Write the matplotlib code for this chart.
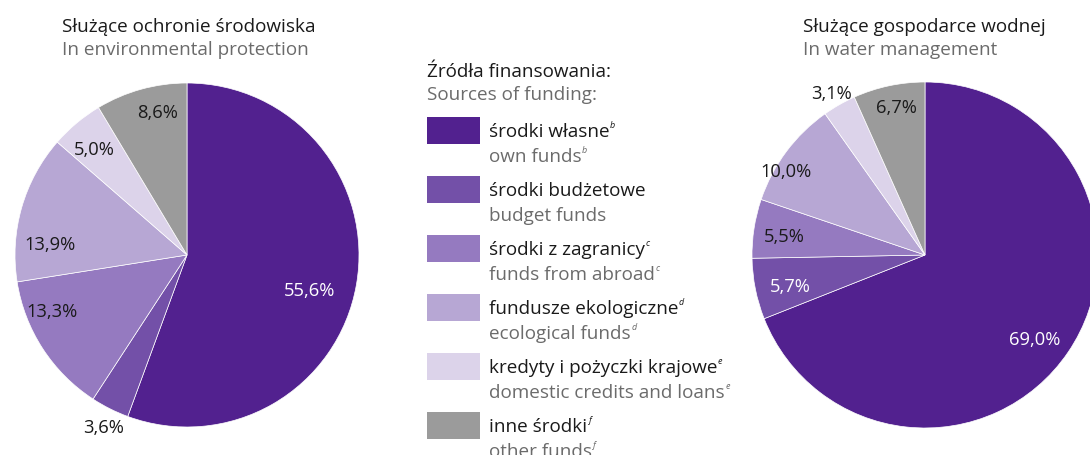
import matplotlib
matplotlib.use("Agg")
import matplotlib.pyplot as plt
import numpy as np

W, H = 1090, 456
FONT = "Open Sans"
FS = 13.6
FS_LAB = 13.2

# ---------------- data ----------------
categories_pl = ["środki własne", "środki budżetowe", "środki z zagranicy",
                 "fundusze ekologiczne", "kredyty i pożyczki krajowe", "inne środki"]
categories_en = ["own funds", "budget funds", "funds from abroad",
                 "ecological funds", "domestic credits and loans", "other funds"]
footnotes = ["b", "", "c", "d", "e", "f"]
env_values = [55.6, 3.6, 13.3, 13.9, 5.0, 8.6]
water_values = [69.0, 5.7, 5.5, 10.0, 3.1, 6.7]
env_labels = ["55,6%", "3,6%", "13,3%", "13,9%", "5,0%", "8,6%"]
water_labels = ["69,0%", "5,7%", "5,5%", "10,0%", "3,1%", "6,7%"]

colors = ["#52218f", "#7350a8", "#957ac0", "#b7a7d4", "#dcd3ea", "#9b9b9b"]
txt_dark = "#1a1a1a"
txt_gray = "#6b6b6b"

# label placement (radius fraction, angle offset deg, colour)
env_lab_r = [0.74, 1.11, 0.85, 0.80, 0.82, 0.85]
env_lab_dt = [-5.8, 0.6, -10.4, 11.4, 1.3, -3.7]
env_lab_c = ["white", txt_dark, txt_dark, txt_dark, txt_dark, txt_dark]
water_lab_r = [0.80, 0.80, 0.82, 0.94, 1.08, 0.87]
water_lab_dt = [-3.2, 1.7, 1.1, 5.6, 0.2, -1.0]
water_lab_c = ["white", "white", txt_dark, txt_dark, txt_dark, txt_dark]

fig = plt.figure(figsize=(W / 100, H / 100), dpi=100)
fig.patch.set_facecolor("white")


def fx(x):
    return x / W


def fy(y):
    return 1 - y / H


def draw_pie(cx, cy, R, values, labels, lab_r, lab_dt, lab_c):
    ax = fig.add_axes([(cx - R) / W, (H - cy - R) / H, 2 * R / W, 2 * R / H])
    wedges, _ = ax.pie(values, colors=colors, startangle=90, counterclock=False,
                       radius=1, wedgeprops=dict(edgecolor="white", linewidth=0.5))
    for w, lab, r, dt, c in zip(wedges, labels, lab_r, lab_dt, lab_c):
        ang = np.deg2rad((w.theta1 + w.theta2) / 2 + dt)
        ax.text(r * np.cos(ang), r * np.sin(ang), lab, ha="center", va="center",
                color=c, fontsize=FS_LAB, family=FONT)
    ax.set_xlim(-1, 1)
    ax.set_ylim(-1, 1)
    ax.set_aspect("equal")
    ax.axis("off")
    return ax


draw_pie(187, 256, 172, env_values, env_labels, env_lab_r, env_lab_dt, env_lab_c)
draw_pie(925, 256, 173, water_values, water_labels, water_lab_r, water_lab_dt, water_lab_c)

# titles
fig.text(fx(62), fy(32), "Służące ochronie środowiska", fontsize=FS, family=FONT,
         color=txt_dark, va="baseline")
fig.text(fx(62), fy(55), "In environmental protection", fontsize=FS, family=FONT,
         color=txt_gray, va="baseline")
fig.text(fx(803), fy(32), "Służące gospodarce wodnej", fontsize=FS, family=FONT,
         color=txt_dark, va="baseline")
fig.text(fx(803), fy(55), "In water management", fontsize=FS, family=FONT,
         color=txt_gray, va="baseline")

# legend
fig.text(fx(427), fy(77), "Źródła finansowania:", fontsize=FS, family=FONT,
         color=txt_dark, va="baseline")
fig.text(fx(427), fy(100), "Sources of funding:", fontsize=FS, family=FONT,
         color=txt_gray, va="baseline")

renderer = fig.canvas.get_renderer()
for i, (pl, en, fn, col) in enumerate(zip(categories_pl, categories_en, footnotes, colors)):
    top = 118 + 59 * i
    fig.patches.append(plt.Rectangle((fx(427), fy(top + 27)), 53 / W, 27 / H,
                                     transform=fig.transFigure, facecolor=col,
                                     edgecolor="none"))
    t1 = fig.text(fx(489), fy(top + 19), pl, fontsize=FS, family=FONT,
                  color=txt_dark, va="baseline")
    t2 = fig.text(fx(489), fy(top + 44), en, fontsize=FS, family=FONT,
                  color=txt_gray, va="baseline")
    if fn:
        for t, base, c in ((t1, top + 19, txt_dark), (t2, top + 44, txt_gray)):
            bb = t.get_window_extent(renderer)
            fig.text((bb.x1 + 0.5) / W, fy(base - 9), fn, fontsize=6.5, family=FONT,
                     style="italic", color=c, va="baseline")

fig.savefig("out.png", dpi=100, facecolor="white")
